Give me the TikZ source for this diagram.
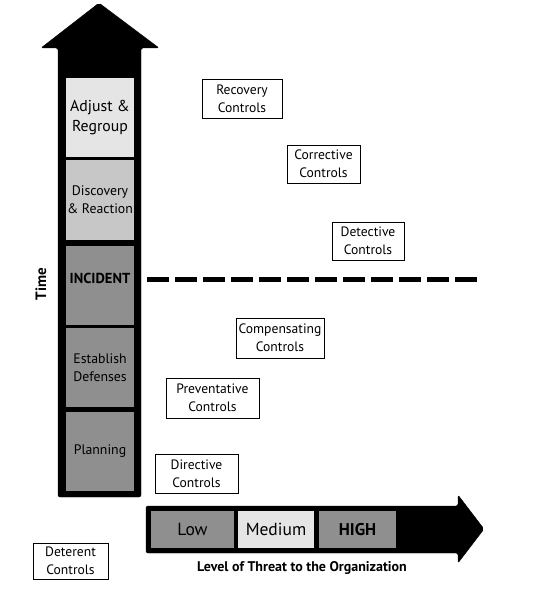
\documentclass[tikz,border=0pt]{standalone}
\usepackage{fontspec}
\setmainfont{PT Sans}
\usepackage{xcolor}
\usetikzlibrary{positioning, shadows}

\definecolor{phasedark}{gray}{0.56}
\definecolor{phasemid}{gray}{0.78}
\definecolor{phaselight}{gray}{0.9}

\begin{document}
\begin{tikzpicture}[
  x=1pt, y=-1pt,
  phase/.style={
    rectangle,
    fill=#1,
    minimum width=68pt,
    minimum height=79pt,
    inner sep=1pt,
    align=center,
    font=\fontsize{13.8}{18}\selectfont
  },
  threat/.style={
    rectangle,
    fill=#1,
    minimum height=37pt,
    inner sep=1pt,
    font=\fontsize{17.5}{20}\selectfont
  },
  ctrl/.style={
    rectangle,
    draw=black,
    fill=white,
    minimum width=#1,
    minimum height=38pt,
    inner sep=1pt,
    align=center,
    font=\fontsize{13.6}{18}\selectfont,
    drop shadow={shadow xshift=1.2pt, shadow yshift=-1.2pt, opacity=0.35}
  },
  bigarrow/.style={
    fill=black,
    rounded corners=2pt
  }
]
\useasboundingbox (0,0) rectangle (536,604);

% Time arrow
\draw[bigarrow] (58,497) -- (58,48) -- (41,48) -- (99,3)
  -- (159,48) -- (141,48) -- (141,497) -- cycle;

% Phases along the time arrow
\node[phase=phaselight, font=\fontsize{15.8}{20}\selectfont] (adjust) at (100,118) {Adjust \&\\Regroup};
\node[phase=phasemid] (discovery) at (100,200) {Discovery\\\& Reaction};
\node[phase=phasedark, text depth=13pt, font=\bfseries\fontsize{14.5}{18}\selectfont] (incident) at (100,285) {INCIDENT};
\node[phase=phasedark] (establish) at (100,367.5) {Establish\\Defenses};
\node[phase=phasedark] (planning) at (100,451.5) {Planning};

\node[rotate=90, font=\bfseries\fontsize{15}{16}\selectfont] (time) at (41,284) {Time};

% Incident line
\coordinate (dashL) at (147,279);
\coordinate (dashR) at (480,279);
\draw[line width=5pt, dash pattern=on 22pt off 6pt] (dashL) -- (dashR);

% Threat arrow
\draw[bigarrow] (146,506) -- (458,506) -- (458,495) -- (484,529)
  -- (458,563) -- (458,553) -- (146,553) -- cycle;

\node[threat=phasedark, minimum width=83pt] (low) at (192.5,529.5) {Low};
\node[threat=phaselight, minimum width=76pt] (medium) at (276,529.5) {Medium};
\node[threat=phasedark, minimum width=77pt, font=\bfseries\fontsize{17}{20}\selectfont] (high) at (357.5,529.5) {HIGH};

\node[font=\bfseries\fontsize{14}{16}\selectfont] (threatlabel) at (302,568) {Level of Threat to the Organization};

% Controls
\node[ctrl=80pt, minimum height=39pt] (recovery) at (242,98.5) {Recovery\\Controls};
\node[ctrl=73pt] (corrective) at (323.5,164) {Corrective\\Controls};
\node[ctrl=72pt] (detective) at (368,241) {Detective\\Controls};
\node[ctrl=88pt, minimum height=40pt] (compensating) at (280,338) {Compensating\\Controls};
\node[ctrl=93pt, minimum height=40pt] (preventative) at (212.5,398) {Preventative\\Controls};
\node[ctrl=83pt, minimum height=39pt] (directive) at (196.5,473.5) {Directive\\Controls};
\node[ctrl=75pt, minimum height=36pt] (deterent) at (70.5,561) {Deterent\\Controls};

\end{tikzpicture}
\end{document}
